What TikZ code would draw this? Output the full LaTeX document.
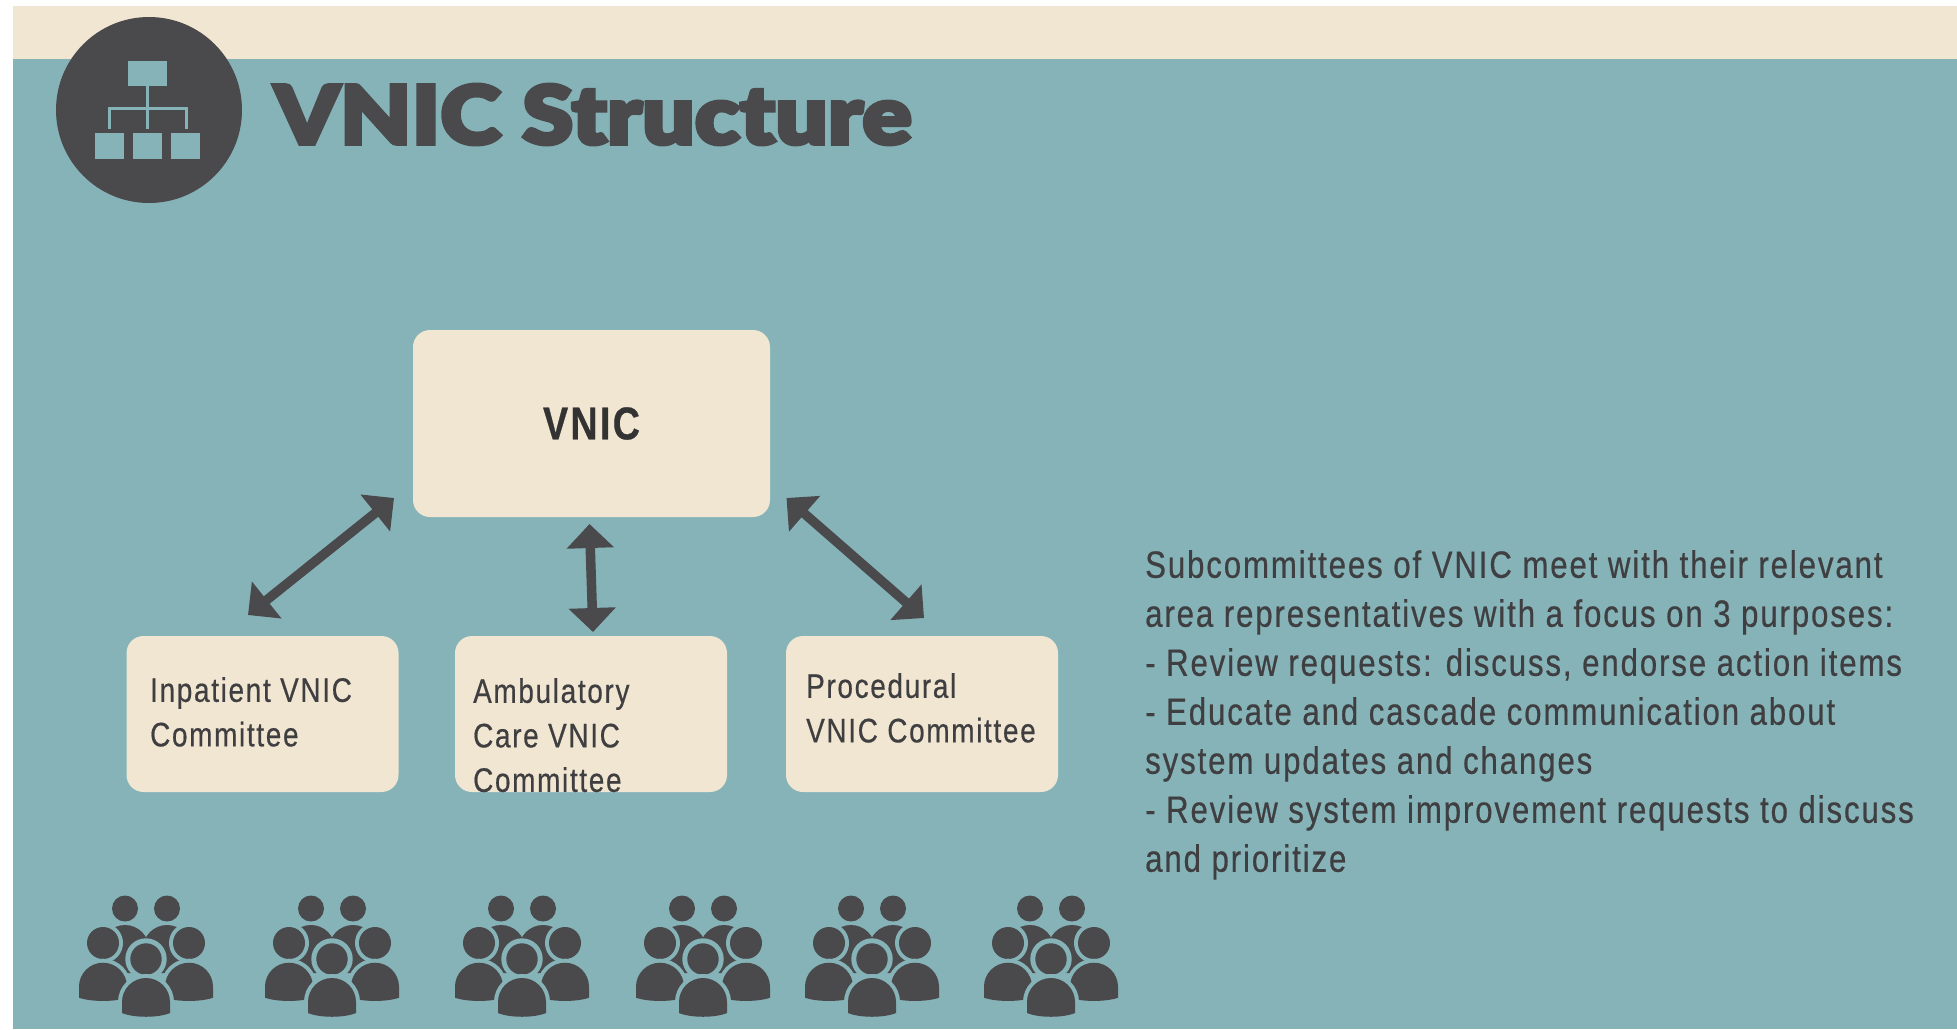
\documentclass[tikz,border=0pt]{standalone}
\usepackage{fontspec}
\setmainfont{Liberation Sans}[FakeStretch=0.82,LetterSpace=5,FakeBold=0.5]
\newfontfamily\titlefont{Lato Black}[FakeStretch=1.14,FakeBold=4.5]
\usetikzlibrary{arrows.meta}
\definecolor{teal0}{HTML}{85B3B8}
\definecolor{cream}{HTML}{F1E6D2}
\definecolor{ink}{HTML}{4A494B}
\definecolor{txt}{HTML}{3F3E40}
\tikzset{
  box/.style={fill=cream,rounded corners=17pt,inner sep=0pt,text=txt},
  lbl/.style={inner sep=0pt,anchor=north west,align=left,text=txt,font=\fontsize{34}{44.5}\selectfont},
  dblarrow/.style={draw=ink,line width=9.5pt,{Triangle[length=24pt,width=46pt]}-{Triangle[length=24pt,width=46pt]}},
  iconline/.style={draw=teal0,line width=3pt},
  iconbox/.style={fill=teal0},
  halo/.style={fill=teal0,draw=teal0,line width=#1,postaction={fill=ink,draw=none}},
  person/.pic={
    % back bodies
    \foreach \s in {-1,1}{
      \fill[ink] (\s*45,14) -- (\s*45,-10) arc[start angle=180,end angle=0,x radius=-\s*24pt,y radius=24pt] -- (\s*-3,14) -- cycle;
      \fill[ink] (\s*21,-50.5) circle[radius=13pt];
    }
    \foreach \s in {-1,1}{
      \path[halo=8pt] (\s*43,-16) circle[radius=16pt];
    }
    \foreach \s in {-1,1}{
      \path[halo=8pt] (\s*43-24,27.7) arc[start angle=180,end angle=0,radius=24pt] -- ++(0,11)
        .. controls (\s*43+12,43) and (\s*43-12,43) .. (\s*43-24,38.7) -- cycle;
    }
    \path[halo=10pt] (0,0) circle[radius=15.7pt];
    \path[halo=8pt] (-24,43) arc[start angle=180,end angle=0,radius=24pt] -- ++(0,11)
      .. controls (12,59) and (-12,59) .. (-24,54) -- cycle;
  }
}
\begin{document}
\begin{tikzpicture}[x=1pt,y=-1pt]
\useasboundingbox (0,0) rectangle (1957,1029);
\fill[white] (0,0) rectangle (1957,1029);
\fill[teal0] (13,59) rectangle (1957,1029);
\fill[cream] (13,6) rectangle (1957,59);
% header icon
\fill[ink] (149,110) circle[radius=93pt];
\fill[iconbox] (128,61) rectangle (167,86);
\draw[iconline] (147.5,86) -- (147.5,129);
\draw[iconline] (109.5,129) -- (109.5,108) -- (186.5,108) -- (186.5,129);
\fill[iconbox] (95,133) rectangle (124,159);
\fill[iconbox] (133,133) rectangle (162,159);
\fill[iconbox] (171,133) rectangle (200,159);
\node[inner sep=0pt,anchor=base west,text=ink,font=\titlefont\fontsize{81}{81}\selectfont] (title) at (274,144) {VNIC Structure};
% boxes
\node[box,minimum width=357pt,minimum height=187pt,text=black!80,font=\bfseries\fontsize{46}{46}\selectfont] (vnic) at (591.5,423.5) {VNIC};
\node[box,minimum width=272pt,minimum height=156pt] (inpatient) at (262.5,714) {};
\node[box,minimum width=272pt,minimum height=156pt] (ambulatory) at (591,714) {};
\node[box,minimum width=272pt,minimum height=156pt] (procedural) at (922,714) {};
\node[lbl] (inpatientl) at (150,677) {Inpatient VNIC\\Committee};
\node[lbl] (ambulatoryl) at (473,678) {Ambulatory\\Care VNIC\\Committee};
\node[lbl] (procedurall) at (806,673) {Procedural\\VNIC Committee};
% arrows
\coordinate (a1) at (394,498); \coordinate (a2) at (248,615);
\coordinate (b1) at (589.5,524); \coordinate (b2) at (593,632);
\coordinate (c1) at (786.5,498); \coordinate (c2) at (924,618);
\draw[dblarrow] (a1) -- (a2);
\draw[dblarrow] (b1) -- (b2);
\draw[dblarrow] (c1) -- (c2);
% paragraph
\node[inner sep=0pt,anchor=north west,align=left,text=txt,font=\fontsize{38}{49}\selectfont] (para) at (1145,550) {Subcommittees of VNIC meet with their relevant\\area representatives with a focus on 3 purposes:\\- Review requests: discuss, endorse action items\\- Educate and cascade communication about\\system updates and changes\\- Review system improvement requests to discuss\\and prioritize};
% people
\foreach \i/\x in {p1/146,p2/332,p3/522,p4/703,p5/872,p6/1051}{
  \pic (\i) at (\x,959) {person};
}
\end{tikzpicture}
\end{document}
